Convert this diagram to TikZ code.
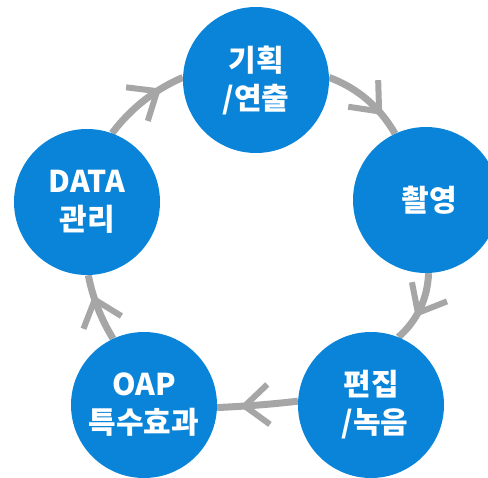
\documentclass[tikz,border=0pt]{standalone}
\usepackage{fontspec}
\setmainfont{Noto Sans CJK KR}
\usetikzlibrary{decorations.markings}
\definecolor{nodeblue}{RGB}{10,132,217}
\definecolor{ringgray}{RGB}{166,166,166}
\pgfdeclarelayer{bg}
\pgfsetlayers{bg,main}
\tikzset{
  stage/.style={circle, fill=nodeblue, minimum size=146pt, inner sep=0pt, text=white,
    font=\fontsize{30}{38}\selectfont\bfseries, align=center},
  link/.style={draw=ringgray, line width=7pt},
  chevron/.style={draw=ringgray, line width=6pt, line join=miter, line cap=butt},
  chevat/.style={postaction={decorate, decoration={markings,
    mark=at position #1 with {\draw[chevron] (-24pt,20pt) -- (0pt,0pt) -- (-24pt,-20pt);}}}}
}
\begin{document}
\begin{tikzpicture}[x=1pt,y=-1pt]
\useasboundingbox (0,0) rectangle (488,478);
\node[stage] (plan)  at (256,80)  {기획\\/연출};
\node[stage] (shoot) at (426,200) {\hspace*{6pt}촬영};
\node[stage] (edit)  at (371,405) {편집\\\hspace*{8pt}/녹음};
\node[stage] (oap)   at (144,405) {OAP\\특수효과};
\node[stage] (data)  at (87,202)  {DATA\\관리};
\begin{pgfonlayer}{bg}
\draw[link, chevat=0.69] (plan.2) .. controls (357.6,88.2) and (379.3,106.5) .. (shoot.115);
\draw[link, chevat=0.57] (shoot.-88) .. controls (427.7,298.3) and (417.4,320.3) .. (edit.68);
\draw[link, chevat=0.66] (edit.177) .. controls (271.3,404.3) and (244.7,406.3) .. (oap.-2);
\draw[link, chevat=0.63] (oap.115) .. controls (101.6,320.1) and (92.9,298.8) .. (data.-89);
\draw[link, chevat=0.68] (data.70) .. controls (130.6,108.7) and (154.3,89.7) .. (plan.178);
\end{pgfonlayer}
\end{tikzpicture}
\end{document}
